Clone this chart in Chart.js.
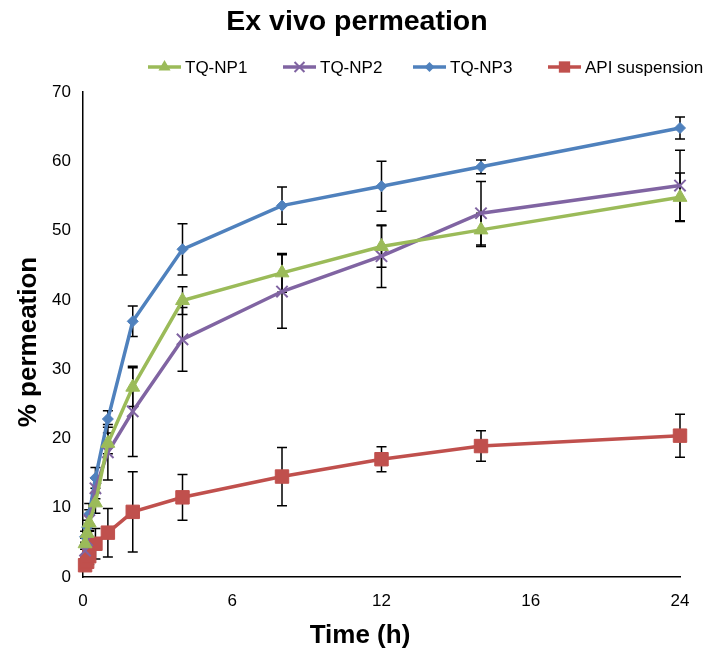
<!DOCTYPE html>
<html>
<head>
<meta charset="utf-8">
<script src="https://cdn.jsdelivr.net/npm/chart.js@4/dist/chart.umd.min.js"></script>
<style>
html,body{margin:0;padding:0;background:#fff;}
#wrap{width:716px;height:661px;}
</style>
</head>
<body>
<div id="wrap"><canvas id="c" width="716" height="661"></canvas></div>
<script>
// ---- data ----
const times = [0.083, 0.167, 0.25, 0.5, 1, 2, 4, 8, 12, 16, 24];
const tqNP1 = [4.8, 6.3, 7.8, 10.7, 19.3, 27.4, 39.9, 43.9, 47.7, 50.1, 54.8];
const tqNP2 = [3.8, 5.3, 8.2, 12.8, 18.0, 23.9, 34.3, 41.2, 46.3, 52.5, 56.5];
const tqNP3 = [5.8, 7.2, 9.1, 14.3, 22.8, 36.9, 47.3, 53.6, 56.4, 59.2, 64.8];
const apiSusp = [1.7, 2.2, 3.0, 4.8, 6.4, 9.4, 11.5, 14.5, 17.0, 18.9, 20.4];
const errNP1 = [0.8, 1.0, 1.2, 1.5, 1.5, 2.8, 2.0, 2.8, 3.0, 2.4, 3.5];
const errNP2 = [1.0, 1.2, 1.5, 1.5, 4.0, 6.5, 4.6, 5.3, 4.5, 4.6, 5.1];
const errNP3 = [0.8, 1.0, 1.5, 1.5, 1.2, 2.2, 3.7, 2.7, 3.6, 1.0, 1.6];
const errAPI = [0.5, 0.8, 1.2, 2.2, 3.5, 5.8, 3.3, 4.2, 1.8, 2.2, 3.1];
const seriesNames = ['TQ-NP1', 'TQ-NP2', 'TQ-NP3', 'API suspension'];
const xTickValues = [0, 6, 12, 18, 24];
const xTickLabels = ['0', '6', '12', '16', '24'];
const yTickValues = [0, 10, 20, 30, 40, 50, 60, 70];
const chartTitle = 'Ex vivo permeation';
const xTitle = 'Time (h)';
const yTitle = '% permeation';

const FONT = "'Liberation Sans', Arial, Helvetica, sans-serif";
const colors = ['#9BBB59', '#8064A2', '#4F81BD', '#C0504D'];
const styles = ['triangle', 'crossRot', 'rectRot', 'rect'];
const radii = [8, 8, 5.5, 9.5];
const legendRadii = [7, 7, 5, 8];
const values = [tqNP1, tqNP2, tqNP3, apiSusp];
const errors = [errNP1, errNP2, errNP3, errAPI];

function pts(vals) { return times.map((t, i) => ({x: t, y: vals[i]})); }

const datasets = values.map((v, k) => ({
  label: seriesNames[k],
  data: pts(v),
  errors: errors[k],
  borderColor: colors[k],
  backgroundColor: colors[k],
  pointBackgroundColor: colors[k],
  pointBorderColor: colors[k],
  pointBorderWidth: styles[k] === 'crossRot' ? 2 : 1,
  pointStyle: styles[k],
  pointRadius: radii[k],
  borderWidth: 3.5,
  tension: 0,
  clip: false
}));

const errorBars = {
  id: 'errorBars',
  beforeDatasetsDraw(chart) {
    const ctx = chart.ctx, xs = chart.scales.x, ys = chart.scales.y;
    ctx.save();
    ctx.strokeStyle = '#000';
    ctx.lineWidth = 1.5;
    chart.data.datasets.forEach(ds => {
      ds.data.forEach((p, i) => {
        const e = ds.errors[i];
        const px = xs.getPixelForValue(p.x);
        const y1 = ys.getPixelForValue(p.y + e);
        const y2 = ys.getPixelForValue(p.y - e);
        ctx.beginPath();
        ctx.moveTo(px, y1); ctx.lineTo(px, y2);
        ctx.moveTo(px - 5, y1); ctx.lineTo(px + 5, y1);
        ctx.moveTo(px - 5, y2); ctx.lineTo(px + 5, y2);
        ctx.stroke();
      });
    });
    ctx.restore();
  }
};

function marker(ctx, style, x, y, r, color) {
  ctx.save();
  ctx.fillStyle = color; ctx.strokeStyle = color;
  ctx.beginPath();
  if (style === 'triangle') {
    ctx.moveTo(x, y - r);
    ctx.lineTo(x + r * Math.sin(2 * Math.PI / 3), y + r * 0.5);
    ctx.lineTo(x - r * Math.sin(2 * Math.PI / 3), y + r * 0.5);
    ctx.closePath(); ctx.fill();
  } else if (style === 'crossRot') {
    const d = r * Math.SQRT1_2;
    ctx.lineWidth = 2;
    ctx.moveTo(x - d, y - d); ctx.lineTo(x + d, y + d);
    ctx.moveTo(x + d, y - d); ctx.lineTo(x - d, y + d);
    ctx.stroke();
  } else if (style === 'rectRot') {
    ctx.moveTo(x, y - r); ctx.lineTo(x + r, y); ctx.lineTo(x, y + r); ctx.lineTo(x - r, y);
    ctx.closePath(); ctx.fill();
  } else {
    const s = r * Math.SQRT1_2;
    ctx.rect(x - s, y - s, 2 * s, 2 * s); ctx.fill();
  }
  ctx.restore();
}

const legendStarts = [148, 283, 413, 548];
const customText = {
  id: 'customText',
  afterDraw(chart) {
    const ctx = chart.ctx;
    ctx.save();
    // chart title
    ctx.fillStyle = '#000';
    ctx.font = 'bold 28.5px ' + FONT;
    ctx.textAlign = 'center';
    ctx.textBaseline = 'middle';
    ctx.fillText(chartTitle, 357, 22);
    // legend
    const y = 67;
    ctx.font = '17px ' + FONT;
    ctx.textAlign = 'left';
    chart.data.datasets.forEach((ds, k) => {
      const x0 = legendStarts[k];
      ctx.strokeStyle = colors[k];
      ctx.lineWidth = 3.5;
      ctx.beginPath(); ctx.moveTo(x0, y); ctx.lineTo(x0 + 33, y); ctx.stroke();
      marker(ctx, styles[k], x0 + 16.5, y, legendRadii[k], colors[k]);
      ctx.fillStyle = '#000';
      ctx.fillText(ds.label, x0 + 37, y + 1);
    });
    // axis titles
    ctx.font = 'bold 26px ' + FONT;
    ctx.textAlign = 'center';
    ctx.fillText(xTitle, 360, 636);
    ctx.translate(29, 342);
    ctx.rotate(-Math.PI / 2);
    ctx.fillText(yTitle, 0, 0);
    ctx.restore();
  }
};

new Chart(document.getElementById('c'), {
  type: 'line',
  data: { datasets },
  plugins: [errorBars, customText],
  options: {
    responsive: false,
    animation: false,
    layout: { padding: { left: 0, right: 36, top: 92, bottom: 0 } },
    plugins: {
      legend: { display: false },
      tooltip: { enabled: false },
      title: { display: false }
    },
    scales: {
      x: {
        type: 'linear',
        min: 0, max: 24,
        afterBuildTicks(scale) { scale.ticks = xTickValues.map(v => ({value: v})); },
        afterFit(scale) { scale.height = 84; },
        grid: { display: false, drawTicks: false },
        border: { display: true, color: '#000', width: 1.5 },
        ticks: {
          color: '#000', padding: 14,
          font: { family: FONT, size: 17 },
          maxRotation: 0,
          callback: (v) => { const i = xTickValues.indexOf(v); return i >= 0 ? xTickLabels[i] : ''; }
        },
        title: { display: false }
      },
      y: {
        min: 0, max: 70,
        afterBuildTicks(scale) { scale.ticks = yTickValues.map(v => ({value: v})); },
        afterFit(scale) { scale.width = 83; },
        grid: { display: false, drawTicks: false },
        border: { display: true, color: '#000', width: 1.5 },
        ticks: { color: '#000', padding: 12, font: { family: FONT, size: 17 } },
        title: { display: false }
      }
    }
  }
});
</script>
</body>
</html>
